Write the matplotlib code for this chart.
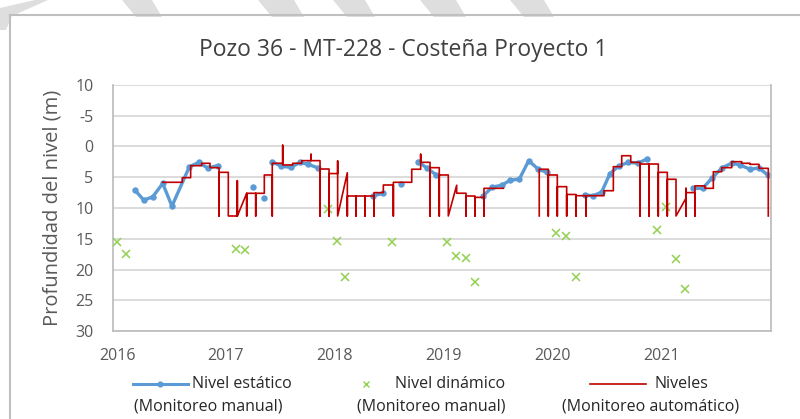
import numpy as np
import matplotlib
matplotlib.use("Agg")
import matplotlib.pyplot as plt
from matplotlib.lines import Line2D
from matplotlib.patches import Polygon

nan = np.nan

# Nivel estatico (monitoreo manual), NaN separates the measurement campaigns
est_t = [2016.165, 2016.245, 2016.328, 2016.42, 2016.505, 2016.665, 2016.75, 2016.834, 2016.926, nan,
         2017.253, nan, 2017.354, nan,
         2017.427, 2017.507, 2017.597, 2017.682, 2017.758, 2017.85, nan,
         2018.356, 2018.448, nan, 2018.608, nan,
         2018.77, 2018.848, 2018.932, nan,
         2019.367, 2019.45, 2019.536, 2019.612, 2019.698, 2019.784, 2019.872, 2019.95, nan,
         2020.30, 2020.378, 2020.455, 2020.531, 2020.617, 2020.70, 2020.79, 2020.874, nan,
         2021.297, 2021.383, 2021.466, 2021.558, 2021.65, 2021.726, 2021.818, 2021.90, 2021.98]
est_lvl = [7.1, 8.7, 8.2, 6.0, 9.7, 3.3, 2.6, 3.5, 3.1, nan,
           6.6, nan, 8.3, nan,
           2.5, 3.2, 3.4, 2.6, 2.9, 3.5, nan,
           8.0, 7.6, nan, 6.1, nan,
           2.5, 3.5, 4.6, nan,
           8.0, 6.6, 6.3, 5.5, 5.3, 2.3, 3.7, 4.2, nan,
           7.9, 8.0, 7.4, 4.4, 3.1, 2.6, 2.7, 2.0, nan,
           6.8, 6.8, 5.2, 3.5, 2.7, 3.0, 3.7, 3.5, 4.6]

# Nivel dinamico (monitoreo manual)
din_t = [2016.0, 2016.083, 2017.094, 2017.176, 2017.937, 2018.025, 2018.10, 2018.53,
         2019.03, 2019.116, 2019.208, 2019.29, 2020.035, 2020.127, 2020.216,
         2020.96, 2021.05, 2021.138, 2021.22]
din_lvl = [15.5, 17.5, 16.7, 16.9, 10.2, 15.3, 21.2, 15.5,
           15.6, 17.8, 18.2, 22.1, 14.1, 14.6, 21.3,
           13.6, 9.8, 18.3, 23.2]

# Niveles (monitoreo automatico), sensor trace
aut_t = [2016.420, 2016.600, 2016.600, 2016.677, 2016.677, 2016.778, 2016.778, 2016.855, 2016.855,
         2016.938, 2016.938, 2016.938, 2017.023, 2017.023,
         2017.106, 2017.106, 2017.106, 2017.192, 2017.192, 2017.192,
         2017.275, 2017.275, 2017.275, 2017.354, 2017.354,
         2017.427, 2017.427, 2017.427, 2017.523, 2017.523, 2017.523,
         2017.615, 2017.615, 2017.698, 2017.698, 2017.783, 2017.783, 2017.783,
         2017.866, 2017.866, 2017.866, 2017.949, 2017.949, 2017.949,
         2018.028, 2018.028, 2018.028, 2018.117, 2018.117, 2018.117,
         2018.197, 2018.197, 2018.197, 2018.279, 2018.279, 2018.279,
         2018.362, 2018.362, 2018.362, 2018.448, 2018.448,
         2018.540, 2018.540, 2018.540, 2018.709, 2018.709,
         2018.791, 2018.791, 2018.791, 2018.877, 2018.877, 2018.877,
         2018.962, 2018.962, 2018.962, 2019.045, 2019.045,
         2019.122, 2019.122, 2019.208, 2019.208, 2019.208,
         2019.290, 2019.290, 2019.290, 2019.373, 2019.373, 2019.373, 2019.551,
         nan,
         2019.881, 2019.881, 2019.964, 2019.964, 2019.964,
         2020.047, 2020.047, 2020.047, 2020.133, 2020.133, 2020.133,
         2020.219, 2020.219, 2020.219, 2020.311, 2020.311, 2020.311,
         2020.476, 2020.476, 2020.562, 2020.562, 2020.639, 2020.639, 2020.722, 2020.722,
         2020.807, 2020.807, 2020.807, 2020.890, 2020.890, 2020.890,
         2020.975, 2020.975, 2020.975, 2021.058, 2021.058, 2021.058,
         2021.138, 2021.138, 2021.230, 2021.230, 2021.230, 2021.230,
         2021.312, 2021.312, 2021.312, 2021.404, 2021.404, 2021.481, 2021.481,
         2021.558, 2021.558, 2021.650, 2021.650, 2021.742, 2021.742,
         2021.818, 2021.818, 2021.901, 2021.901, 2021.986, 2021.986]
aut_lvl = [5.82, 5.82, 5.07, 5.07, 3.12, 3.12, 2.73, 2.73, 3.44,
           3.44, 11.3, 4.2, 4.2, 11.3,
           11.3, 5.56, 11.3, 7.61, 11.3, 7.61,
           7.61, 11.3, 7.61, 7.61, 4.63,
           4.63, 11.3, 2.73, 2.73, -0.2, 3.0,
           3.0, 2.73, 2.73, 2.3, 2.3, 1.27, 2.3,
           2.3, 11.3, 3.66, 3.66, 11.3, 4.4,
           4.4, 2.36, 11.3, 4.26, 11.3, 8.05,
           8.05, 11.3, 8.05, 8.05, 11.3, 8.05,
           8.05, 11.3, 7.5, 7.5, 6.26,
           6.26, 11.3, 5.82, 5.82, 3.7,
           3.7, 1.27, 2.57, 2.57, 11.3, 3.44,
           3.44, 11.3, 4.63, 4.63, 11.3,
           6.3, 7.6, 7.6, 11.3, 8.05,
           8.05, 11.3, 8.27, 8.27, 11.3, 6.8, 6.8,
           nan,
           11.3, 3.7, 3.7, 11.3, 4.63,
           4.63, 11.3, 6.53, 6.53, 11.3, 7.8,
           7.8, 11.3, 8.0, 8.0, 11.3, 8.0,
           8.0, 7.19, 7.19, 3.28, 3.28, 1.5, 1.5, 2.57,
           2.57, 11.3, 2.85, 2.85, 11.3, 2.85,
           2.85, 11.3, 4.2, 4.2, 11.3, 5.33,
           5.33, 11.3, 8.4, 6.8, 11.3, 7.5,
           7.5, 11.3, 6.4, 6.4, 6.8, 6.8, 4.1,
           4.1, 3.44, 3.44, 2.47, 2.47, 2.73,
           2.73, 2.9, 2.9, 3.55, 3.55, 11.3]

years = [2016, 2017, 2018, 2019, 2020, 2021]
y_ticks = [-10, -5, 0, 5, 10, 15, 20, 25, 30]
y_ticklabels = ["10", "-5", "0", "5", "10", "15", "20", "25", "30"]

BLUE = "#5B9BD5"
GREEN = "#92D050"
RED = "#C00000"
GREY = "#595959"
FONT = "Open Sans"

W, H = 800, 419
fig = plt.figure(figsize=(W / 100, H / 100), dpi=100)
fig.patch.set_facecolor("white")


def fx(px):
    return px / W


def fy(py):
    return 1 - py / H


# chart frame + the grey stripes across the top of the screenshot
fig.add_artist(Line2D([fx(10), fx(800)], [fy(15), fy(15)], color="#BFBFBF", lw=1.5))
fig.add_artist(Line2D([fx(10), fx(10)], [fy(15), fy(419)], color="#BFBFBF", lw=1.5))
for a, w in [(122, 30), (258, 36), (333, 32), (420, 36), (510, 34)]:
    pts = [(fx(a), fy(0)), (fx(a + w), fy(0)), (fx(a + w + 10), fy(17)), (fx(a + 14), fy(17))]
    fig.add_artist(Polygon(pts, closed=True, color="#DEDEDE", lw=0))
fig.add_artist(Polygon([(fx(0), fy(8)), (fx(35), fy(0)), (fx(48), fy(0)), (fx(12), fy(16)),
                        (fx(6), fy(30)), (fx(0), fy(30))], closed=True, color="#DEDEDE", lw=0))

ax = fig.add_axes([fx(113), fy(331), fx(771) - fx(113), fy(85) - fy(331)])
ax.plot(est_t, est_lvl, "-o", color=BLUE, lw=2.4, ms=3.6, zorder=2)
ax.plot(din_t, din_lvl, "x", color=GREEN, ms=5.5, mew=1.1, zorder=3)
ax.plot(aut_t, aut_lvl, "-", color=RED, lw=1.2, zorder=4)

ax.set_xlim(2016 - 4 / 108.8, 2016 + (771 - 117) / 108.8)
ax.set_ylim(30, -10)
ax.set_xticks(years)
ax.set_xticklabels([str(y) for y in years])
ax.set_yticks(y_ticks)
ax.set_yticklabels(y_ticklabels)
ax.tick_params(length=0, labelsize=11.5, labelcolor=GREY)
ax.tick_params(axis="y", pad=14)
ax.tick_params(axis="x", pad=12)
for lab in ax.get_xticklabels() + ax.get_yticklabels():
    lab.set_family(FONT)
ax.grid(axis="y", color="#D9D9D9", lw=1.3)
ax.set_axisbelow(True)
ax.spines["top"].set_visible(False)
for s in ["left", "bottom", "right"]:
    ax.spines[s].set_color("#BFBFBF")
    ax.spines[s].set_linewidth(1.3)

ax.set_ylabel("Profundidad del nivel (m)", fontsize=14.5, color=GREY, family=FONT, labelpad=9)

fig.text(fx(403), fy(50), "Pozo 36 - MT-228 - Costeña Proyecto 1", ha="center", va="center",
         fontsize=16.5, color="#404040", family=FONT)

# legend drawn by hand: handle + two-line labels
ly1, ly2 = fy(384), fy(406)
fig.add_artist(Line2D([fx(133), fx(188)], [ly1, ly1], color=BLUE, lw=2.2))
fig.add_artist(Line2D([fx(160)], [ly1], color=BLUE, marker="o", ms=3.4))
fig.add_artist(Line2D([fx(366)], [ly1], color=GREEN, marker="x", ms=5, mew=1.0, lw=0))
fig.add_artist(Line2D([fx(590), fx(646)], [ly1, ly1], color=RED, lw=1.2))
legend_txt = [(192, ly1, "Nivel estático"), (134, ly2, "(Monitoreo manual)"),
              (395, ly1, "Nivel dinámico"), (357, ly2, "(Monitoreo manual)"),
              (654, ly1, "Niveles"), (562, ly2, "(Monitoreo automático)")]
for px, y, t in legend_txt:
    fig.text(fx(px), y, t, ha="left", va="center", fontsize=11.5, color="#262626", family=FONT)

fig.savefig("out.png", dpi=100)
